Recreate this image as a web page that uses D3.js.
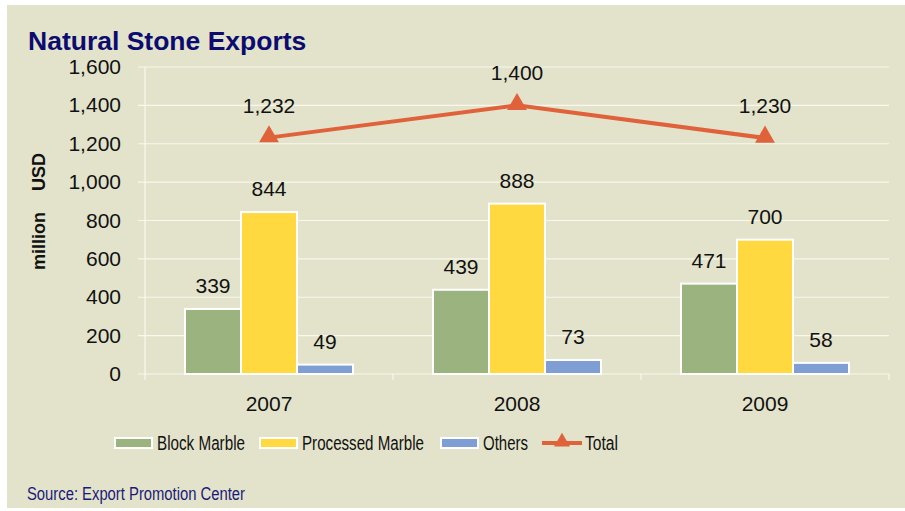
<!DOCTYPE html>
<html>
<head>
<meta charset="utf-8">
<script src="https://cdn.jsdelivr.net/npm/d3@7"></script>
<style>
  body { margin: 0; background: #fff; }
  svg { font-family: "Liberation Sans", Arial, sans-serif; display: block; }
</style>
</head>
<body>
<svg id="chart" width="905" height="511"></svg>
<script>
var years = ["2007", "2008", "2009"],
    blockMarble = [339, 439, 471],
    processedMarble = [844, 888, 700],
    others = [49, 73, 58],
    total = [1232, 1400, 1230],
    yTicks = [0, 200, 400, 600, 800, 1000, 1200, 1400, 1600];

var seriesNames = ["Block Marble", "Processed Marble", "Others"],
    seriesData = [blockMarble, processedMarble, others],
    colors = ["#9bb37e", "#ffd93f", "#7f9fd4"],
    lineColor = "#e0623a";

var svg = d3.select("#chart"),
    plotLeft = 145, plotRight = 889, plotTop = 67, plotBottom = 374;

// panel background
svg.append("rect")
    .attr("x", 7).attr("y", 5).attr("width", 898).attr("height", 503)
    .attr("fill", "#e3e3cb");

var x = d3.scaleBand().domain(years).range([plotLeft, plotRight]),
    xs = d3.scaleBand().domain(seriesNames).range([0, 168]),
    y = d3.scaleLinear().domain([0, 1600]).range([plotBottom, plotTop]);

var fmt = d3.format(",");

// gridlines
svg.append("g").selectAll("line")
    .data(yTicks)
  .join("line")
    .attr("x1", plotLeft - 7).attr("x2", plotRight)
    .attr("y1", function (d) { return y(d); })
    .attr("y2", function (d) { return y(d); })
    .attr("stroke", "#f8f8ee").attr("stroke-width", 1.2);

// y axis line
svg.append("line")
    .attr("x1", plotLeft).attr("x2", plotLeft)
    .attr("y1", plotTop).attr("y2", plotBottom)
    .attr("stroke", "#f8f8ee").attr("stroke-width", 1.2);

// x category ticks
var xt = years.map(function (d) { return x(d); }).concat([plotRight]);
svg.append("g").selectAll("line")
    .data(xt)
  .join("line")
    .attr("x1", function (d) { return d; }).attr("x2", function (d) { return d; })
    .attr("y1", plotBottom).attr("y2", plotBottom + 6)
    .attr("stroke", "#f8f8ee").attr("stroke-width", 1.2);

// y tick labels
svg.append("g").selectAll("text")
    .data(yTicks)
  .join("text")
    .attr("x", 121)
    .attr("y", function (d) { return y(d) + 7; })
    .attr("text-anchor", "end")
    .attr("font-size", 21)
    .attr("fill", "#111")
    .text(function (d) { return fmt(d); });

// x labels
svg.append("g").selectAll("text")
    .data(years)
  .join("text")
    .attr("x", function (d) { return x(d) + x.bandwidth() / 2; })
    .attr("y", 411)
    .attr("text-anchor", "middle")
    .attr("font-size", 21)
    .attr("fill", "#111")
    .text(function (d) { return d; });

// bars
seriesNames.forEach(function (name, i) {
  var g = svg.append("g");
  g.selectAll("rect")
      .data(seriesData[i])
    .join("rect")
      .attr("x", function (d, j) { return x(years[j]) + 40 + xs(name); })
      .attr("y", function (d) { return y(d); })
      .attr("width", xs.bandwidth())
      .attr("height", function (d) { return plotBottom - y(d); })
      .attr("fill", colors[i])
      .attr("stroke", "#fff").attr("stroke-width", 2);
  g.selectAll("text")
      .data(seriesData[i])
    .join("text")
      .attr("x", function (d, j) { return x(years[j]) + 40 + xs(name) + xs.bandwidth() / 2; })
      .attr("y", function (d) { return y(d) - 16; })
      .attr("text-anchor", "middle")
      .attr("font-size", 21)
      .attr("fill", "#111")
      .text(function (d) { return fmt(d); });
});

// total line
var cx = function (d, j) { return x(years[j]) + x.bandwidth() / 2; };
var line = d3.line()
    .x(function (d, j) { return cx(d, j); })
    .y(function (d) { return y(d); });
svg.append("path")
    .datum(total)
    .attr("d", line)
    .attr("fill", "none")
    .attr("stroke", lineColor).attr("stroke-width", 4);

var tri = d3.symbol().type(d3.symbolTriangle).size(170);
svg.append("g").selectAll("path")
    .data(total)
  .join("path")
    .attr("transform", function (d, j) { return "translate(" + cx(d, j) + "," + (y(d) - 1) + ")"; })
    .attr("d", tri)
    .attr("fill", lineColor);

svg.append("g").selectAll("text")
    .data(total)
  .join("text")
    .attr("x", cx)
    .attr("y", function (d) { return y(d) - 25; })
    .attr("text-anchor", "middle")
    .attr("font-size", 21)
    .attr("fill", "#111")
    .text(function (d) { return fmt(d); });

// title
svg.append("text")
    .attr("x", 28).attr("y", 50)
    .attr("font-size", 26.5).attr("font-weight", "bold")
    .attr("fill", "#0c0c70")
    .text("Natural Stone Exports");

// y axis title (two words, wide gap)
svg.append("text")
    .attr("transform", "translate(45,241) rotate(-90)")
    .attr("text-anchor", "middle")
    .attr("font-size", 18).attr("font-weight", "bold")
    .attr("fill", "#111")
    .text("million");
svg.append("text")
    .attr("transform", "translate(45,172) rotate(-90)")
    .attr("text-anchor", "middle")
    .attr("font-size", 18).attr("font-weight", "bold")
    .attr("fill", "#111")
    .text("USD");

// legend (narrow text squeezed with textLength)
var legendItems = [
  { name: "Block Marble", x: 115, w: 88, color: colors[0], type: "bar" },
  { name: "Processed Marble", x: 260, w: 122, color: colors[1], type: "bar" },
  { name: "Others", x: 441, w: 45, color: colors[2], type: "bar" },
  { name: "Total", x: 542, w: 33, color: lineColor, type: "line" }
];
var lg = svg.append("g").selectAll("g")
    .data(legendItems)
  .join("g")
    .attr("transform", function (d) { return "translate(" + d.x + ",443)"; });
lg.filter(function (d) { return d.type === "bar"; })
  .append("rect")
    .attr("x", 0).attr("y", -5).attr("width", 37).attr("height", 10)
    .attr("fill", function (d) { return d.color; })
    .attr("stroke", "#fff").attr("stroke-width", 2);
var ll = lg.filter(function (d) { return d.type === "line"; });
ll.append("line")
    .attr("x1", 0).attr("x2", 40).attr("y1", 0).attr("y2", 0)
    .attr("stroke", function (d) { return d.color; }).attr("stroke-width", 4);
ll.append("path")
    .attr("transform", "translate(20,-1)")
    .attr("d", d3.symbol().type(d3.symbolTriangle).size(110))
    .attr("fill", function (d) { return d.color; });
lg.append("text")
    .attr("x", function (d) { return d.type === "line" ? 43 : 42; })
    .attr("y", 7)
    .attr("font-size", 20)
    .attr("textLength", function (d) { return d.w; })
    .attr("lengthAdjust", "spacingAndGlyphs")
    .attr("fill", "#111")
    .text(function (d) { return d.name; });

// source
svg.append("text")
    .attr("x", 27).attr("y", 500)
    .attr("font-size", 18)
    .attr("textLength", 218)
    .attr("lengthAdjust", "spacingAndGlyphs")
    .attr("fill", "#1a1a7a")
    .text("Source: Export Promotion Center");
</script>
</body>
</html>
